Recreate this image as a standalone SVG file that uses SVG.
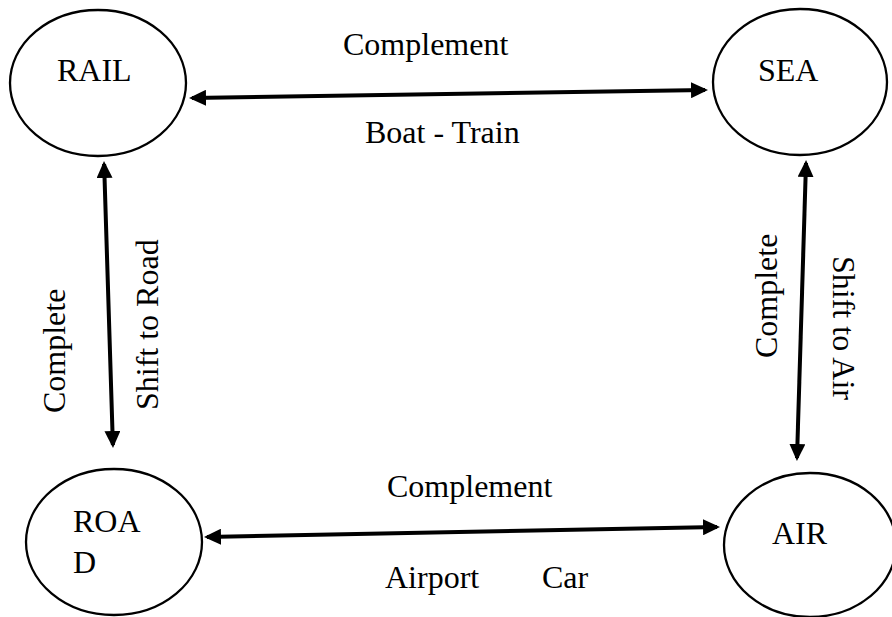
<svg xmlns="http://www.w3.org/2000/svg" width="892" height="617" viewBox="0 0 892 617">
<style>
  .node { fill: #fff; stroke: #000; stroke-width: 2.3; }
  .t { font-family: "Liberation Serif", "Times New Roman", serif; font-size: 32px; fill: #000; }
  .conn { stroke: #000; stroke-width: 4; fill: none; marker-start: url(#ah); marker-end: url(#ah); }
</style>
<defs>
  <marker id="ah" markerUnits="userSpaceOnUse" markerWidth="17" markerHeight="16" refX="14" refY="8" orient="auto-start-reverse" viewBox="0 0 17 16">
    <path d="M0,0 L17,8 L0,16 z" fill="#000"/>
  </marker>
</defs>
<rect width="892" height="617" fill="#fff"/>
<g id="rail">
  <ellipse class="node" cx="98" cy="83" rx="88" ry="73"/>
  <text class="t" x="57" y="81">RAIL</text>
</g>
<g id="sea">
  <ellipse class="node" cx="800" cy="82" rx="87" ry="73"/>
  <text class="t" x="758" y="81">SEA</text>
</g>
<g id="road">
  <ellipse class="node" cx="114" cy="542" rx="88" ry="73"/>
  <text class="t" x="73" y="532">ROA</text>
  <text class="t" x="73" y="573">D</text>
</g>
<g id="air">
  <ellipse class="node" cx="810" cy="545" rx="86" ry="72"/>
  <text class="t" x="772" y="544">AIR</text>
</g>
<g id="connectors">
  <line class="conn" x1="192" y1="98" x2="705" y2="90"/>
  <line class="conn" x1="207" y1="537" x2="717" y2="527"/>
  <line class="conn" x1="104.1" y1="164" x2="112.9" y2="445"/>
  <line class="conn" x1="806" y1="163" x2="797" y2="458"/>
</g>
<g id="labels">
  <text class="t" x="343" y="55">Complement</text>
  <text class="t" x="365" y="143">Boat - Train</text>
  <text class="t" x="387" y="497">Complement</text>
  <text class="t" y="588"><tspan x="385">Airport</tspan><tspan x="542">Car</tspan></text>
  <text class="t" transform="translate(65,413) rotate(-90)">Complete</text>
  <text class="t" transform="translate(158,410) rotate(-90)">Shift to Road</text>
  <text class="t" transform="translate(777,358) rotate(-90)">Complete</text>
  <text class="t" transform="translate(833,256) rotate(90)">Shift to Air</text>
</g>
</svg>
